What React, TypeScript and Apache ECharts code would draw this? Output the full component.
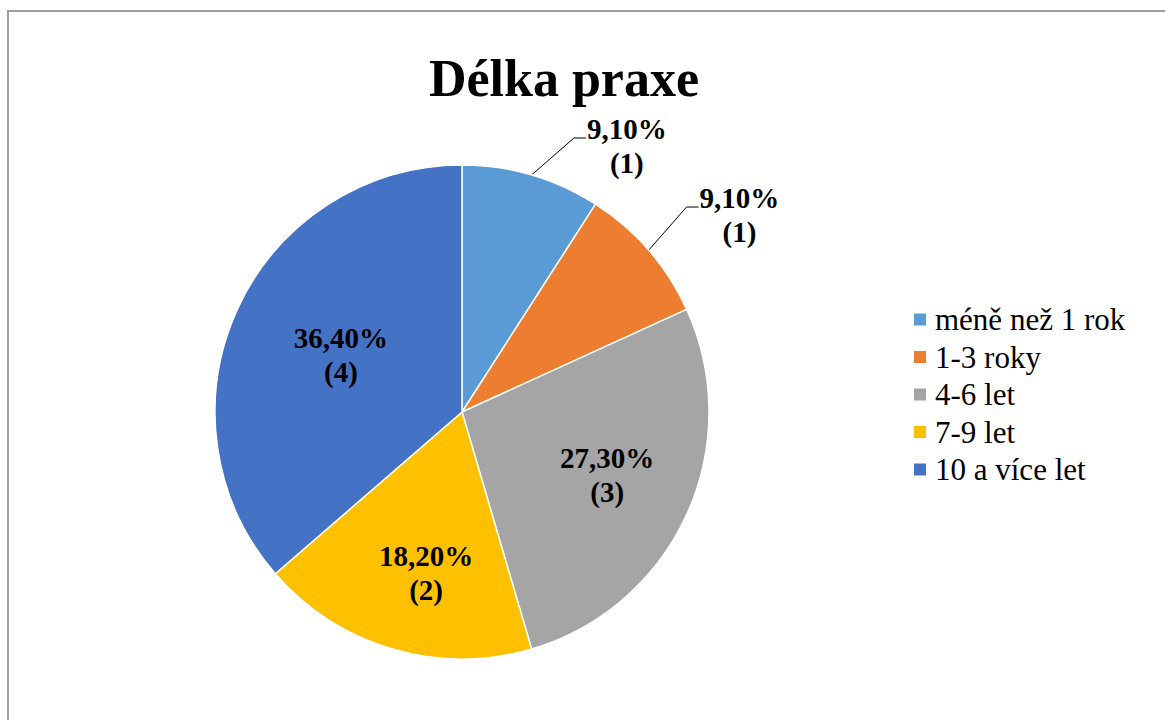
import React, { useEffect, useRef } from "react";
import * as echarts from "echarts";

const categories = ["méně než 1 rok", "1-3 roky", "4-6 let", "7-9 let", "10 a více let"];
const shares = [9.1, 9.1, 27.3, 18.2, 36.4];
const counts = [1, 1, 3, 2, 4];
const colors = ["#5B9BD5", "#ED7D31", "#A5A5A5", "#FFC000", "#4472C4"];
const titleText = "Délka praxe";

const FONT = "Liberation Serif, Times New Roman, serif";
const CENTER = [462, 412];
const RADIUS = 247;
const outsideLabel = [true, true, false, false, false];
const insideFactor = [0, 0, 0.64, 0.668, 0.542];
const insideAngleShift = [0, 0, -1.2, -3.8, 0.7];
const lineLen = [38.6, 66, 0, 0, 0];
const lineLen2 = [43.5, 0, 0, 0, 0];

const fmtPct = (v: number) => v.toFixed(2).replace(".", ",") + "%";

export default function App() {
  const ref = useRef<HTMLDivElement>(null);
  useEffect(() => {
    if (!ref.current) return;
    const chart = echarts.init(ref.current, undefined, { renderer: "svg" });
    const data = categories.map((name, i) => ({
      name,
      value: shares[i],
      label: { position: outsideLabel[i] ? "outside" : "inside" },
      labelLine: { show: outsideLabel[i], length: lineLen[i], length2: lineLen2[i] },
    }));
    chart.setOption({
      animation: false,
      backgroundColor: "#ffffff",
      color: colors,
      textStyle: { fontFamily: FONT },
      title: {
        text: titleText,
        left: 564,
        top: 52,
        padding: 0,
        textAlign: "center",
        textStyle: { fontFamily: FONT, fontSize: 52, fontWeight: "bold", color: "#000" },
      },
      legend: {
        orient: "vertical",
        left: 912,
        top: 304,
        padding: 0,
        itemWidth: 14,
        itemHeight: 14,
        itemGap: 6.5,
        icon: "rect",
        selectedMode: false,
        data: categories,
        textStyle: { fontFamily: FONT, fontSize: 31, color: "#000", padding: [0, 0, 0, 3] },
      },
      graphic: [
        {
          type: "rect",
          shape: { x: 8, y: 11, width: 1300, height: 900 },
          style: { fill: "none", stroke: "#9E9E9E", lineWidth: 2 },
          silent: true,
        },
      ],
      series: [
        {
          type: "pie",
          center: CENTER,
          radius: RADIUS,
          startAngle: 90,
          clockwise: true,
          avoidLabelOverlap: false,
          itemStyle: { borderColor: "#ffffff", borderWidth: 1.5 },
          emphasis: { disabled: true },
          label: {
            show: true,
            fontFamily: FONT,
            fontSize: 29,
            lineHeight: 34,
            fontWeight: "bold",
            color: "#000",
            formatter: (p: any) => `${fmtPct(shares[p.dataIndex])}\n(${counts[p.dataIndex]})`,
          },
          labelLine: { lineStyle: { color: "#000", width: 1 } },
          labelLayout: (p: any) => {
            const i = p.dataIndex;
            const r = p.labelRect;
            if (outsideLabel[i]) {
              const pts = p.labelLinePoints;
              if (!pts) return {};
              const p0 = pts[0];
              const vx = p0[0] - CENTER[0];
              const vy = p0[1] - CENTER[1];
              const vl = Math.hypot(vx, vy) || 1;
              const elbow = [p0[0] + (vx / vl) * lineLen[i], p0[1] + (vy / vl) * lineLen[i]];
              const end = [elbow[0] + lineLen2[i], elbow[1]];
              return {
                x: end[0] + 1 + r.width / 2,
                y: end[1] + 8,
                align: "center",
                verticalAlign: "middle",
                labelLinePoints: [p0, [end[0] - 12, end[1]], end],
              };
            }
            const lx = r.x + r.width / 2;
            const ly = r.y + r.height / 2;
            const dx = lx - CENTER[0];
            const dy = ly - CENTER[1];
            const theta = Math.atan2(dx, -dy) + (insideAngleShift[i] * Math.PI) / 180;
            const d = insideFactor[i] * RADIUS;
            return {
              x: CENTER[0] + Math.sin(theta) * d,
              y: CENTER[1] - Math.cos(theta) * d,
              align: "center",
              verticalAlign: "middle",
            };
          },
          data,
        },
      ],
    });
    return () => chart.dispose();
  }, []);
  return (
    <div
      ref={ref}
      style={{ position: "absolute", left: 0, top: 0, width: 1165, height: 720 }}
    />
  );
}
